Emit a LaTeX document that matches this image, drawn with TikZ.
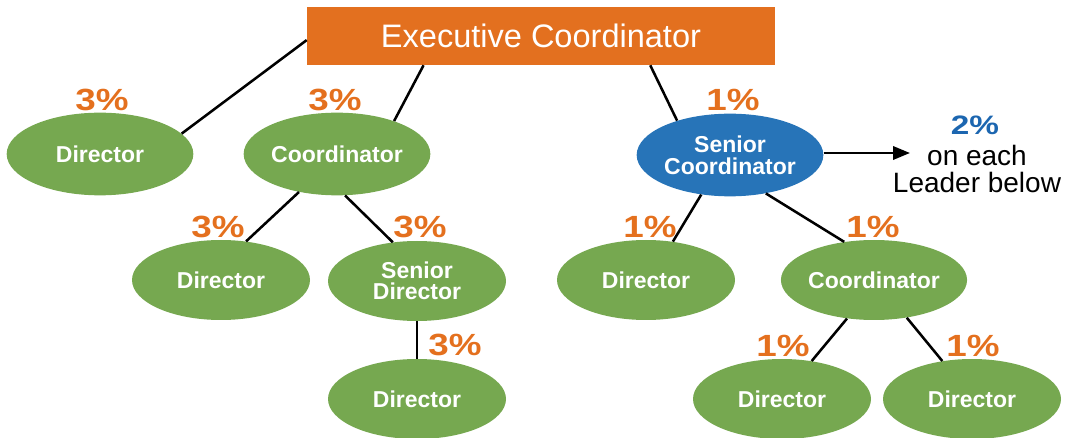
\documentclass[tikz,border=0pt]{standalone}
\usepackage{fontspec}
\setmainfont{Liberation Sans}
\newfontfamily\pctfont[FakeStretch=1.2]{Liberation Sans}
\newfontfamily\pctbfont[FakeStretch=1.25]{Liberation Sans}
\usetikzlibrary{arrows.meta,shapes.geometric}
\definecolor{exorange}{HTML}{E3701F}
\definecolor{pctorange}{HTML}{E4701E}
\definecolor{leafgreen}{HTML}{76A850}
\definecolor{seniorblue}{HTML}{2774B8}
\definecolor{pctblue}{HTML}{1C66B0}
\tikzset{
  role/.style={ellipse, fill=leafgreen, text=white, inner sep=0pt,
    minimum width=133.5pt, minimum height=60pt, align=center,
    font=\bfseries\fontsize{17.25pt}{18pt}\selectfont},
  bigrole/.style={role, minimum width=140pt, minimum height=62pt},
  pct/.style={text=pctorange, inner sep=0pt, font=\pctfont\bfseries\fontsize{23pt}{24pt}\selectfont},
  link/.style={draw=black, line width=1.9pt},
}
\begin{document}
\begin{tikzpicture}[x=0.75pt,y=-0.75pt]
\useasboundingbox (0,0) rectangle (1065,438);
% top
\node[fill=exorange, text=white, minimum width=351pt, minimum height=43.5pt, inner sep=0pt,
  font=\fontsize{24.4pt}{26pt}\selectfont] (exec) at (541,36) {Executive Coordinator};
% row 1
\node[bigrole] (dirA) at (100,154) {Director};
\node[bigrole] (coordA) at (337,154) {Coordinator};
\node[bigrole, fill=seniorblue] (senc) at (730,155) {Senior\\[-1.5pt]Coordinator};
% row 2
\node[role] (dirB) at (221,280) {Director};
\node[role] (send) at (417,281) {Senior\\[-2pt]Director};
\node[role] (dirC) at (646,280) {Director};
\node[role] (coordB) at (874,280) {Coordinator};
% row 3
\node[role] (dirD) at (417,399) {Director};
\node[role] (dirE) at (782,399) {Director};
\node[role] (dirF) at (972,399) {Director};
% connectors
\draw[link] (exec.181) -- (dirA.14);
\draw[link] (exec.194) -- (coordA.30);
\draw[link] (exec.-15.6) -- (senc.147);
\draw[link] (coordA.225) -- (dirB.57);
\draw[link] (coordA.281) -- (send.122);
\draw[link] (send.south) -- (dirD.north);
\draw[link] (senc.234) -- (dirC.55);
\draw[link] (senc.-47) -- (coordB.128);
\draw[link] (coordB.235) -- (dirE.52);
\draw[link] (coordB.-49) -- (dirF.128);
\coordinate (arrowend) at (910,153);
\draw[link, -{Triangle[length=12.75pt,width=10pt]}] (senc.east |- arrowend) -- (arrowend);
% percentages
\node[pct] (p1) at (102,100) {3\%};
\node[pct] (p2) at (335,100) {3\%};
\node[pct] (p3) at (733,100) {1\%};
\node[pct] (p4) at (218,227) {3\%};
\node[pct] (p5) at (420,227) {3\%};
\node[pct] (p6) at (455,345) {3\%};
\node[pct] (p7) at (650,227) {1\%};
\node[pct] (p8) at (873,227) {1\%};
\node[pct] (p9) at (783,346) {1\%};
\node[pct] (p10) at (973,346) {1\%};
\node[pct, text=pctblue, font=\pctbfont\bfseries\fontsize{20pt}{21pt}\selectfont] (p11) at (975,125) {2\%};
\node[inner sep=0pt, font=\fontsize{21pt}{22pt}\selectfont] (note1) at (977,155) {on each};
\node[inner sep=0pt, font=\fontsize{21pt}{22pt}\selectfont] (note2) at (977,182) {Leader below};
\end{tikzpicture}
\end{document}
